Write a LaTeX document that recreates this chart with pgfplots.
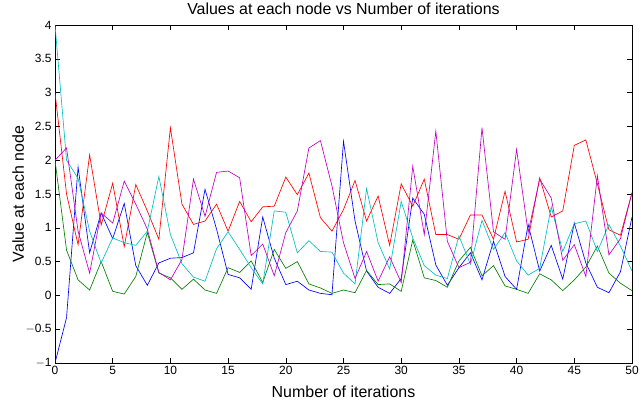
\documentclass[border=0pt]{standalone}
\usepackage{pgfplots}
\pgfplotsset{compat=1.18}
\usepackage{pgfplotstable}
\usepackage{fontspec}
\setmainfont{Liberation Sans}
\definecolor{mblue}{rgb}{0,0,1}
\definecolor{mgreen}{rgb}{0,0.5,0}
\definecolor{mred}{rgb}{1,0,0}
\definecolor{mcyan}{rgb}{0,0.75,0.75}
\definecolor{mmag}{rgb}{0.75,0,0.75}
\pgfplotstableread{
x  b     g     r     c     m
0  -1.00 2.00  3.00  4.00  2.00
1  -0.33 0.67  1.50  2.00  2.18
2  1.90  0.23  0.75  1.73  0.95
3  0.63  0.08  2.08  0.95  0.33
4  1.22  0.50  1.04  0.48  1.22
5  0.84  0.06  1.66  0.85  1.07
6  1.36  0.02  0.72  0.78  1.69
7  0.44  0.28  1.64  0.74  1.35
8  0.15  0.93  1.25  0.95  0.98
9  0.48  0.33  0.83  1.76  0.34
10 0.55  0.26  2.48  0.90  0.23
11 0.56  0.09  1.35  0.47  0.53
12 0.63  0.24  1.05  0.27  1.72
13 1.57  0.08  1.10  0.21  1.17
14 0.98  0.03  1.35  0.69  1.82
15 0.31  0.41  0.95  0.94  1.84
16 0.26  0.34  1.39  0.68  1.74
17 0.09  0.51  1.09  0.41  0.59
18 1.16  0.19  1.31  0.17  0.76
19 0.55  0.68  1.32  1.25  0.29
20 0.16  0.40  1.75  1.23  0.93
21 0.21  0.50  1.49  0.63  1.25
22 0.08  0.17  1.81  0.81  2.18
23 0.03  0.11  1.15  0.65  2.29
24 0.01  0.03  0.95  0.64  1.62
25 2.28  0.08  1.27  0.33  0.78
26 1.10  0.04  1.70  0.17  0.25
27 0.36  0.37  1.10  1.58  0.65
28 0.12  0.16  1.47  0.78  0.21
29 0.03  0.17  0.74  0.39  0.57
30 0.25  0.06  1.65  1.39  0.19
31 1.44  0.82  1.32  0.85  1.91
32 1.20  0.26  1.72  0.44  0.90
33 0.45  0.22  0.90  0.30  2.43
34 0.15  0.12  0.90  0.25  0.80
35 0.41  0.51  0.83  0.88  0.41
36 0.63  0.71  1.19  0.46  0.49
37 0.23  0.29  1.19  1.11  2.48
38 0.80  0.44  0.83  0.68  0.94
39 0.28  0.14  1.54  0.93  0.83
40 0.09  0.09  0.79  0.51  2.16
41 1.05  0.03  0.83  0.30  0.93
42 0.36  0.32  1.74  0.40  1.72
43 0.74  0.23  1.16  1.31  1.44
44 0.24  0.07  1.25  0.65  0.52
45 1.07  0.23  2.22  1.06  0.75
46 0.48  0.42  2.30  1.10  0.28
47 0.12  0.73  1.65  0.65  1.77
48 0.04  0.33  0.97  1.05  0.60
49 0.35  0.18  0.89  0.73  0.84
50 1.16  0.07  1.52  0.36  1.52
}\datatable
\begin{document}
\begin{tikzpicture}[x=1bp,y=1bp]
\useasboundingbox (-55bp,-42bp) rectangle (587bp,363bp);
\begin{axis}[
  at={(0,0)}, anchor=south west,
  scale only axis,
  width=577bp, height=338bp,
  xmin=0, xmax=50, ymin=-1, ymax=4,
  xtick={0,5,...,50},
  ytick={-1,-0.5,0,0.5,1,1.5,2,2.5,3,3.5,4},
  yticklabels={$-$1,$-$0.5,0,0.5,1,1.5,2,2.5,3,3.5,4},
  tick align=inside,
  major tick length=5bp,
  tick style={black, line width=0.5pt},
  axis line style={black, line width=0.5pt},
  /pgf/number format/assume math mode=true,
  ticklabel style={font=\fontsize{12}{14}\selectfont},
  title={Values at each node vs Number of iterations},
  title style={font=\fontsize{16}{18}\selectfont, at={(axis description cs:0.5,1)}, anchor=base, yshift=4.5bp},
  xlabel={Number of iterations},
  xlabel style={font=\fontsize{16}{18}\selectfont, at={(axis description cs:0.5,0)}, anchor=base, yshift=-34bp},
  ylabel={Value at each node},
  ylabel style={font=\fontsize{16}{18}\selectfont, at={(axis description cs:-0.064,0.5)}, anchor=center},
  every axis plot/.append style={line width=0.65pt, mark=none},
  clip=true,
]
\addplot[mblue] table[x=x,y=b] {\datatable};
\addplot[mgreen] table[x=x,y=g] {\datatable};
\addplot[mred] table[x=x,y=r] {\datatable};
\addplot[mcyan] table[x=x,y=c] {\datatable};
\addplot[mmag] table[x=x,y=m] {\datatable};
\end{axis}
\end{tikzpicture}
\end{document}
